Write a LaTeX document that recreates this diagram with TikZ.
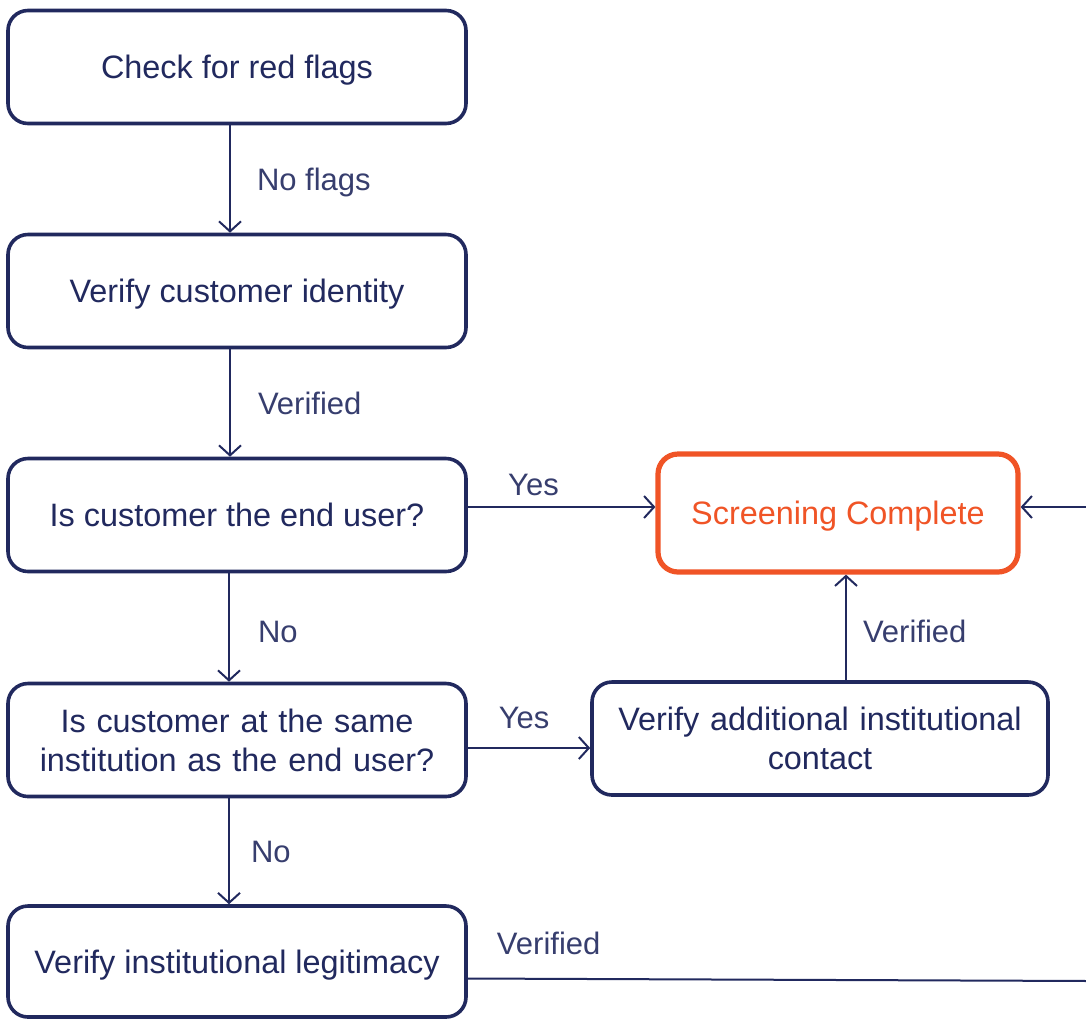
\documentclass[tikz,border=0pt]{standalone}
\usepackage{fontspec}
\setmainfont{Liberation Sans}
\usetikzlibrary{arrows.meta,calc}
\definecolor{navy}{RGB}{33,41,94}
\definecolor{orng}{RGB}{240,84,38}
\tikzset{
  px/.style={x=0.5pt,y=-0.5pt},
  box/.style={draw=navy, line width=1.8pt, rounded corners=10pt, fill=white,
    minimum width=229pt, minimum height=56.5pt, inner sep=0pt, align=center,
    text=navy, font=\fontsize{16.2}{19.5}\selectfont},
  onebox/.style={box, text height=11.6pt, text depth=0pt},
  donebox/.style={onebox, draw=orng, line width=2.6pt, text=orng},
  arr/.style={draw=navy, line width=1pt, -{Straight Barb[length=5pt,width=11pt,line width=1pt]}},
  ln/.style={draw=navy, line width=1pt},
  lab/.style={text=navy!90, font=\fontsize{15.5}{18}\selectfont, inner sep=0pt,
    text height=11.1pt, text depth=0pt},
}
\begin{document}
\begin{tikzpicture}[px]
\useasboundingbox (0,0) rectangle (1086,1019);
\node[onebox] (b1) at (237,67) {Check for red flags};
\node[onebox] (b2) at (237,291) {Verify customer identity};
\node[onebox] (b3) at (237,515) {Is customer the end user?};
\node[box, text width=215pt] (b4) at (237,740) {Is customer at the same\\institution as the end user?};
\node[onebox, minimum height=55.5pt] (b5) at (237,961.5) {Verify institutional legitimacy};
\node[donebox, minimum width=180pt, minimum height=59pt] (sc) at (838,513) {Screening Complete};
\node[box, minimum width=228pt, minimum height=56.5pt, text width=220pt] (b7) at (820,738.5) {Verify additional institutional\\contact};
\coordinate (rin) at (1090,507);
\coordinate (bout) at (1090,981);
% vertical arrows
\draw[arr] ([xshift=-3.5pt]b1.south) -- ([xshift=-3.5pt]b1.south |- b2.north)
  node[lab, midway, anchor=west, xshift=13pt] {No flags};
\draw[arr] ([xshift=-3.5pt]b2.south) -- ([xshift=-3.5pt]b2.south |- b3.north)
  node[lab, midway, anchor=west, xshift=13.5pt] {Verified};
\draw[arr] ([xshift=-4pt]b3.south) -- ([xshift=-4pt]b3.south |- b4.north)
  node[lab, midway, anchor=west, xshift=14pt, yshift=-1.75pt] {No};
\draw[arr] ([xshift=-4pt]b4.south) -- ([xshift=-4pt]b4.south |- b5.north)
  node[lab, midway, anchor=west, xshift=10.5pt] {No};
% horizontal arrows
\draw[arr] ([yshift=4pt]b3.east) -- ([yshift=4pt]b3.east -| sc.west)
  node[lab, pos=0.35, anchor=south, yshift=5.5pt] {Yes};
\draw[arr] ([yshift=-4pt]b4.east) -- ([yshift=-4pt]b4.east -| b7.west)
  node[lab, pos=0.46, anchor=south, yshift=9.5pt] {Yes};
\draw[arr] ([xshift=13pt]b7.north) -- ([xshift=13pt]b7.north |- sc.south)
  node[lab, midway, anchor=west, xshift=8pt, yshift=-2pt] {Verified};
\draw[arr] (rin) -- (rin -| sc.east);
\draw[ln] ([yshift=-8.5pt]b5.east) -- (bout)
  node[lab, pos=0.13, anchor=south, yshift=11.5pt] {Verified};
\end{tikzpicture}
\end{document}
